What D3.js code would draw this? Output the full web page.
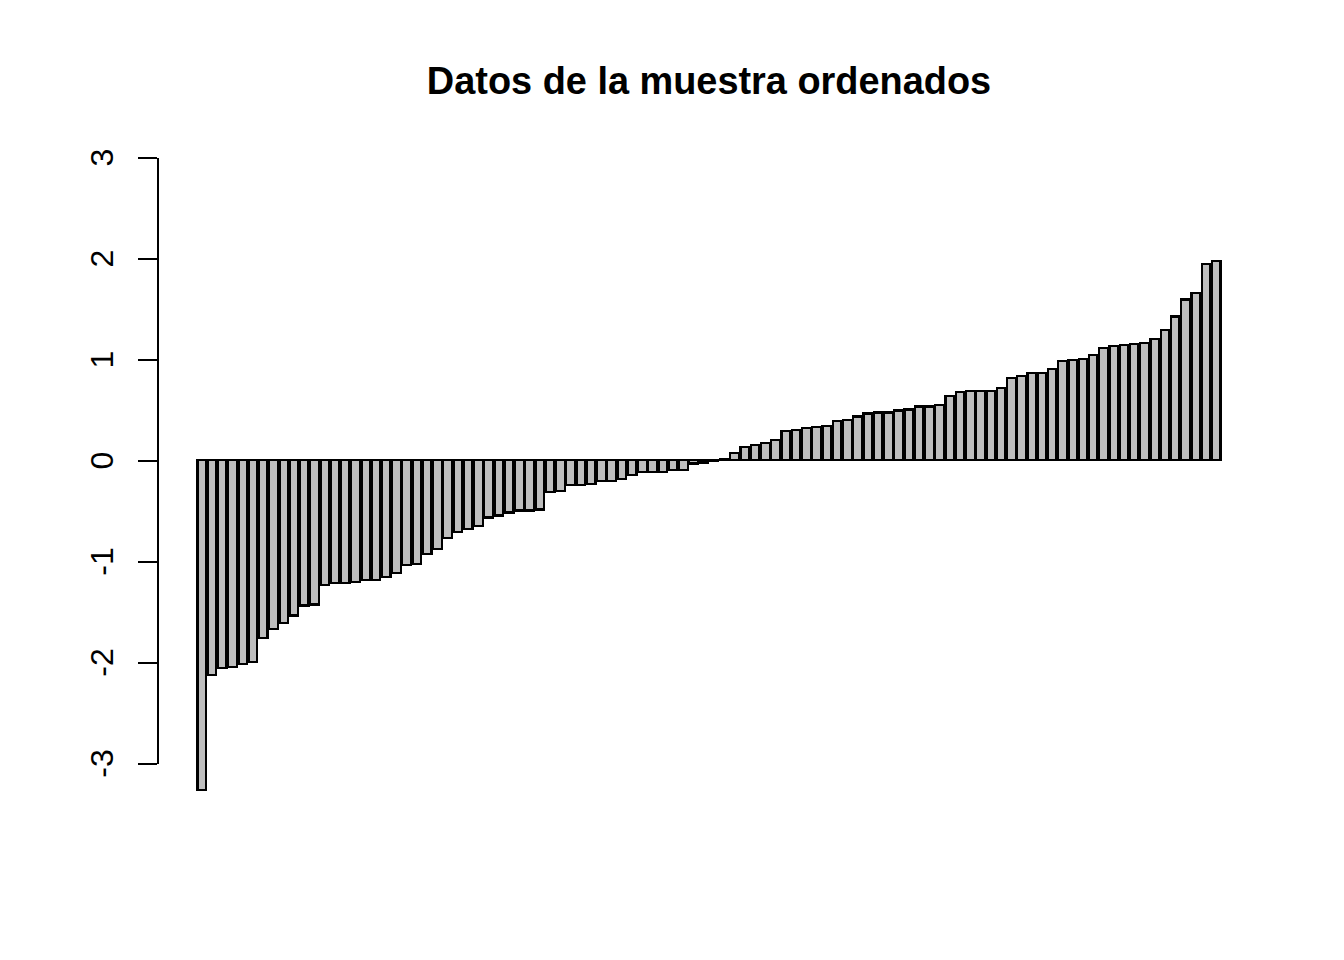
<!DOCTYPE html>
<html>
<head>
<meta charset="utf-8">
<script src="https://cdn.jsdelivr.net/npm/d3@7"></script>
<style>
  body { margin: 0; background: #fff; }
  svg text { font-family: "Liberation Sans", Arial, sans-serif; fill: #000; }
</style>
</head>
<body>
<svg id="chart" width="1344" height="960"></svg>
<script>
var title = "Datos de la muestra ordenados";

// sorted sample values
var values = [
  -3.27, -2.13, -2.06, -2.05, -2.02, -2.00, -1.76, -1.67, -1.61, -1.54,
  -1.44, -1.43, -1.24, -1.22, -1.22, -1.21, -1.19, -1.19, -1.16, -1.12,
  -1.04, -1.03, -0.93, -0.88, -0.77, -0.71, -0.68, -0.65, -0.57, -0.55,
  -0.52, -0.50, -0.50, -0.49, -0.32, -0.31, -0.25, -0.25, -0.24, -0.21,
  -0.21, -0.185, -0.15, -0.12, -0.12, -0.115, -0.10, -0.10, -0.035, -0.025,
  -0.012, 0.008, 0.07, 0.13, 0.15, 0.17, 0.20, 0.29, 0.30, 0.32,
  0.33, 0.34, 0.39, 0.40, 0.43, 0.46, 0.47, 0.47, 0.49, 0.50,
  0.53, 0.53, 0.545, 0.63, 0.67, 0.68, 0.68, 0.68, 0.71, 0.81,
  0.83, 0.86, 0.86, 0.90, 0.98, 0.99, 1.00, 1.04, 1.11, 1.13,
  1.14, 1.15, 1.16, 1.20, 1.29, 1.42, 1.59, 1.65, 1.94, 1.97
];

var yTicks = [-3, -2, -1, 0, 1, 2, 3];

var svg = d3.select("#chart");

// barplot layout: width 1, space 0.2, axis range padded 4% each side
var n = values.length,
    space = 0.2,
    xmax = n * (1 + space),
    pad = (xmax - space) * 0.04;

var x = d3.scaleLinear()
    .domain([space - pad, xmax + pad])
    .range([156.5, 1261.5]);

var y = d3.scaleLinear()
    .domain([-3, 3])
    .range([763, 157]);

svg.append("g")
  .selectAll("rect")
  .data(values)
  .enter().append("rect")
    .attr("x", function(d, i) { return x(i * (1 + space) + space); })
    .attr("width", function(d, i) { return x(1) - x(0); })
    .attr("y", function(d) { return y(Math.max(0, d)); })
    .attr("height", function(d) { return Math.abs(y(d) - y(0)); })
    .attr("fill", "#bebebe")
    .attr("stroke", "#000")
    .attr("stroke-width", 2.2)
    .attr("shape-rendering", "crispEdges");

var axis = d3.axisLeft(y)
    .tickValues(yTicks)
    .tickSize(19)
    .tickSizeOuter(0)
    .tickFormat(d3.format("d"));

var yAxis = svg.append("g")
    .attr("transform", "translate(157,0)")
    .call(axis);

yAxis.select(".domain").attr("stroke-width", 2).attr("shape-rendering", "crispEdges");
yAxis.selectAll(".tick line").attr("stroke-width", 2).attr("shape-rendering", "crispEdges");
yAxis.selectAll(".tick text")
    .attr("x", null)
    .attr("dy", null)
    .attr("transform", "translate(-44,0) rotate(-90)")
    .attr("text-anchor", "middle")
    .style("font-size", "32px")
    .style("font-family", "'Liberation Sans', Arial, sans-serif")
    .text(function(d) { return d < 0 ? "-" + Math.abs(d) : d; });

svg.append("text")
    .attr("x", (x.range()[0] + x.range()[1]) / 2)
    .attr("y", 94)
    .attr("text-anchor", "middle")
    .style("font-size", "37.9px")
    .style("font-weight", "bold")
    .text(title);
</script>
</body>
</html>
